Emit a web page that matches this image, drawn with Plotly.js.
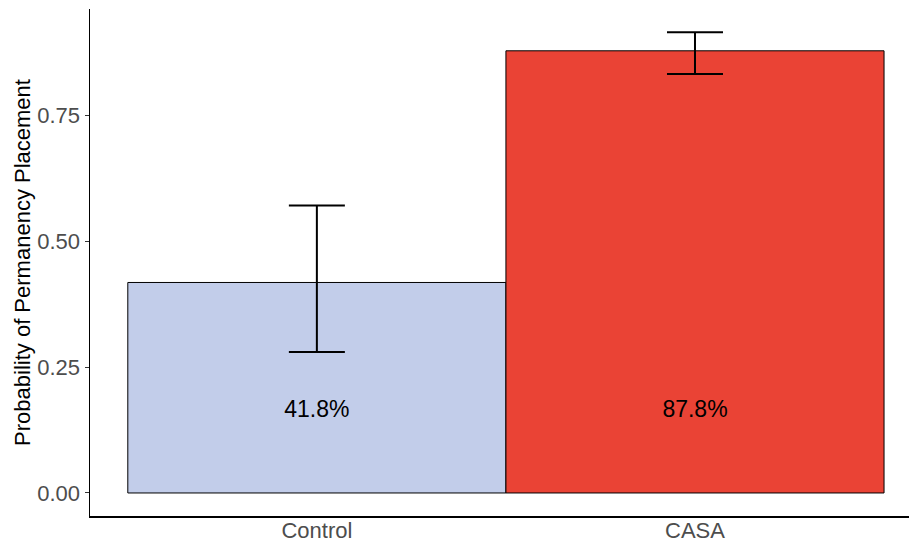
<!DOCTYPE html>
<html>
<head>
<meta charset="utf-8">
<script src="https://cdn.plot.ly/plotly-3.0.1.min.js"></script>
<style>html,body{margin:0;padding:0;background:#fff;}#chart{width:909px;height:544px;}</style>
</head>
<body>
<div id="chart"></div>
<script>
const categories = ["Control", "CASA"];
const probabilities = [0.418, 0.878];
const ciLower = [0.280, 0.832];
const ciUpper = [0.571, 0.915];
const labelText = ["41.8%", "87.8%"];
const labelY = [0.163, 0.163];
const barColors = ["#c2cdea", "#ea4335"];
const yTickVals = [0, 0.25, 0.5, 0.75];
const yTickText = ["0.00", "0.25", "0.50", "0.75"];

const xIdx = categories.map((c, i) => i + 1);

const bars = {
  type: "bar",
  x: xIdx,
  y: probabilities,
  width: 1,
  marker: {color: barColors, line: {color: "#000000", width: 1}},
  error_y: {
    type: "data",
    symmetric: false,
    array: probabilities.map((p, i) => ciUpper[i] - p),
    arrayminus: probabilities.map((p, i) => p - ciLower[i]),
    color: "#000000",
    thickness: 2,
    width: 28
  },
  hoverinfo: "none",
  showlegend: false
};

const labels = {
  type: "scatter",
  mode: "text",
  x: xIdx,
  y: labelY,
  text: labelText,
  textfont: {family: "Liberation Sans, Arial, sans-serif", size: 23, color: "#000000"},
  hoverinfo: "none",
  showlegend: false
};

const layout = {
  width: 909,
  height: 544,
  margin: {l: 90, r: 0, t: 9, b: 28},
  paper_bgcolor: "#ffffff",
  plot_bgcolor: "#ffffff",
  font: {family: "Liberation Sans, Arial, sans-serif"},
  xaxis: {
    range: [0.4, 2.566],
    tickvals: xIdx,
    ticktext: categories,
    ticks: "",
    ticklabelstandoff: -6,
    showgrid: false,
    zeroline: false,
    showline: true,
    linecolor: "#000000",
    linewidth: 1.5,
    tickfont: {size: 22, color: "#4d4d4d"},
    automargin: false
  },
  yaxis: {
    range: [-0.0457, 0.961],
    tickvals: yTickVals,
    ticktext: yTickText,
    ticks: "outside",
    ticklen: 4,
    tickwidth: 1,
    tickcolor: "#333333",
    showgrid: false,
    zeroline: false,
    showline: true,
    linecolor: "#000000",
    linewidth: 1.5,
    tickfont: {size: 22, color: "#4d4d4d"},
    title: {text: "Probability of Permanency Placement", font: {size: 22, color: "#000000"}, standoff: 0},
    automargin: false
  },
  bargap: 0
};

Plotly.newPlot("chart", [bars, labels], layout, {displayModeBar: false, staticPlot: true});
</script>
</body>
</html>
